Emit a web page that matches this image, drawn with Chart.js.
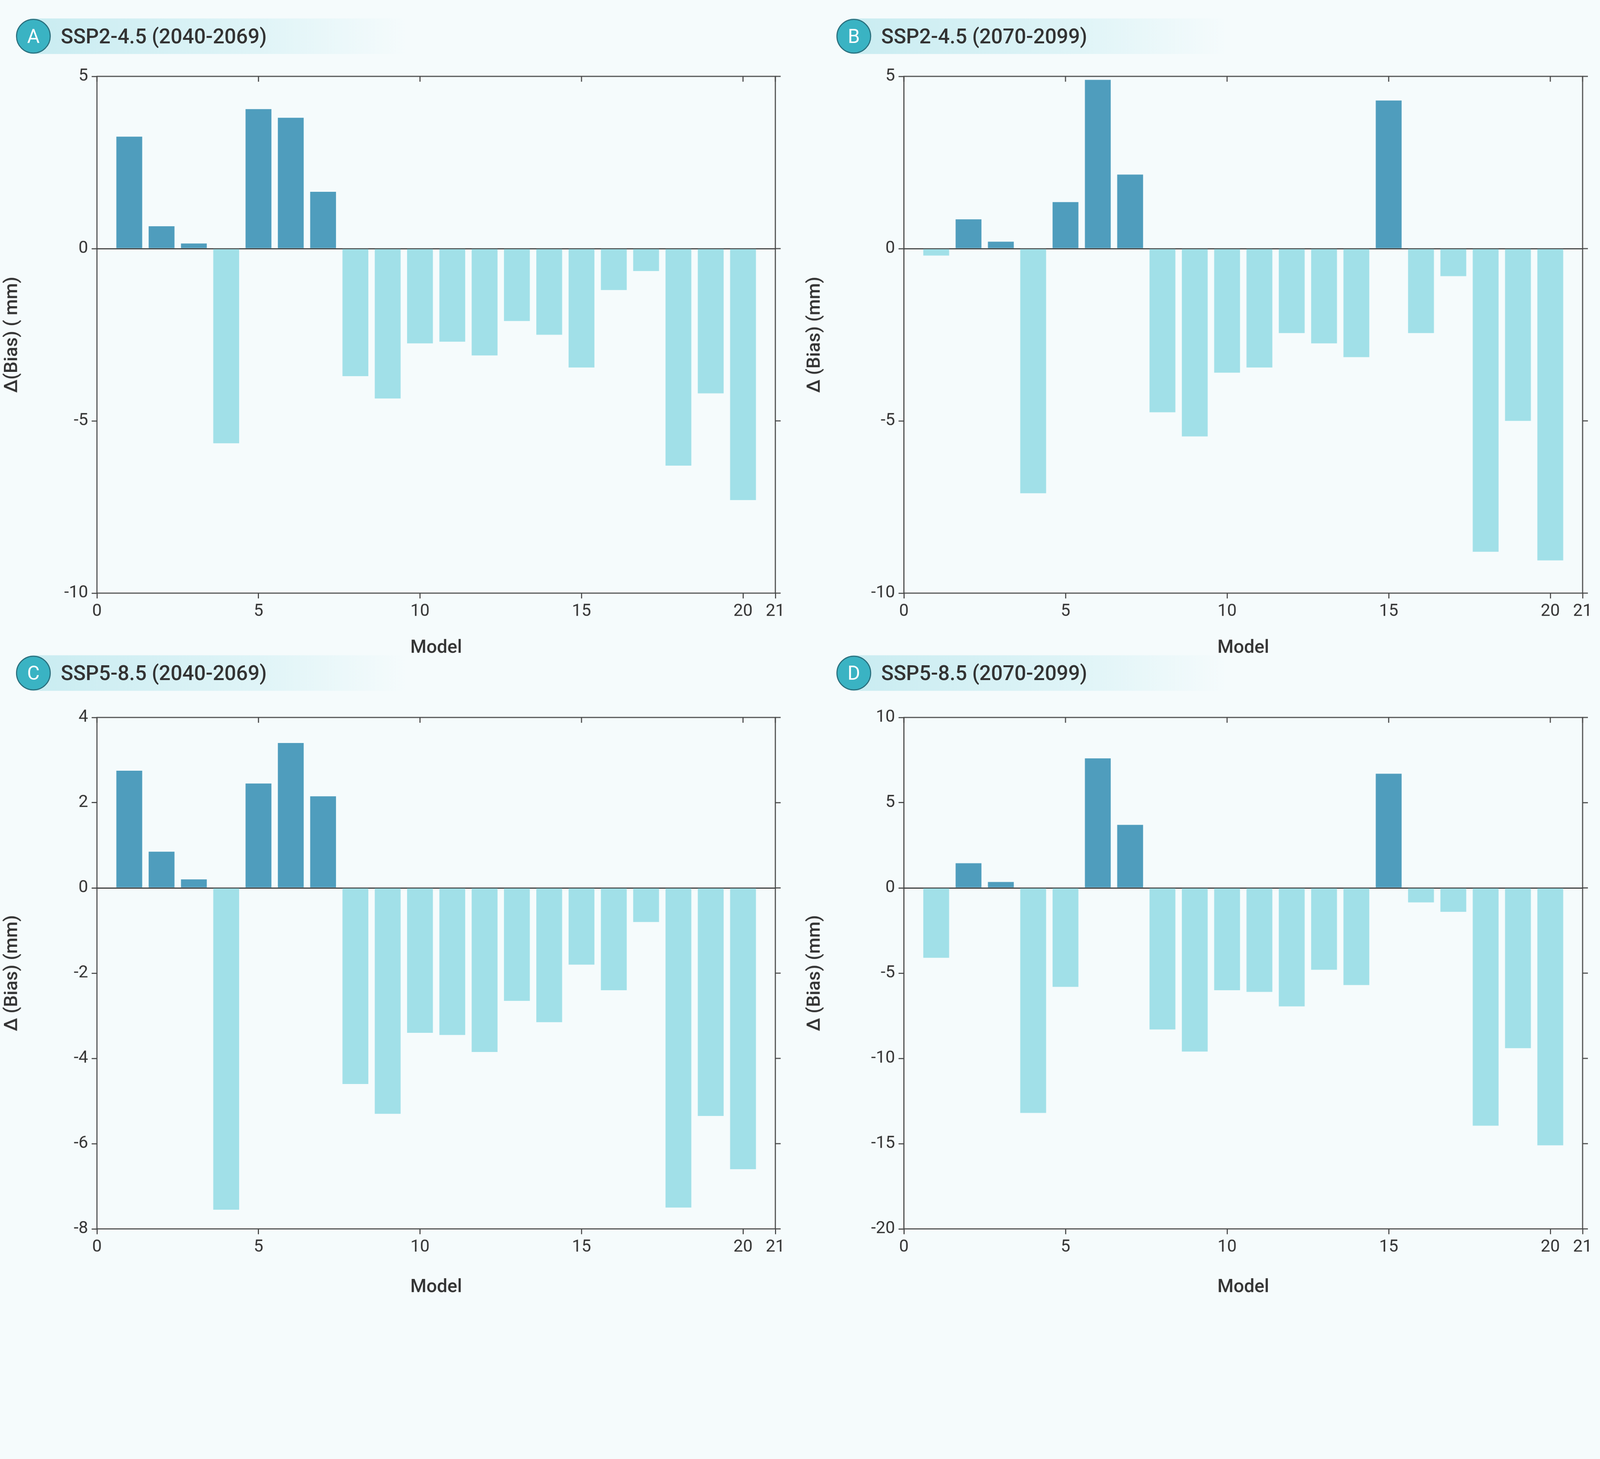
<!DOCTYPE html>
<html>
<head>
<meta charset="utf-8">
<script src="https://cdn.jsdelivr.net/npm/chart.js@4"></script>
<style>
  html, body { margin: 0; background: #f5fbfc; overflow: hidden; }
  #page { width: 4505px; height: 3735px; background: #f5fbfc; position: relative; font-family: Roboto, sans-serif; transform-origin: 0 0; }
  .panel { position: absolute; }
  .title { position: absolute; height: 100px; display: flex; align-items: center; }
  .band { position: absolute; left: 40px; top: 0; width: 1060px; height: 100px; background: linear-gradient(to right, #c9ecf1 0%, #dff4f7 60%, rgba(245,251,252,0) 100%); }
  .badge { position: relative; width: 92px; height: 92px; border-radius: 50%; background: #3ab3c3; border: 3px solid #2a6f7d; color: #fff; font-size: 54px; display: flex; align-items: center; justify-content: center; }
  .ttext { position: relative; margin-left: 28px; font-size: 58px; font-weight: 500; color: #333; }
</style>
</head>
<body>
<div id="page">
<div class="title" style="left:45px;top:52px"><div class="band"></div><div class="badge">A</div><div class="ttext">SSP2-4.5 (2040-2069)</div></div>
<div class="title" style="left:2355px;top:52px"><div class="band"></div><div class="badge">B</div><div class="ttext">SSP2-4.5 (2070-2099)</div></div>
<div class="title" style="left:45px;top:1845px"><div class="band"></div><div class="badge">C</div><div class="ttext">SSP5-8.5 (2040-2069)</div></div>
<div class="title" style="left:2355px;top:1845px"><div class="band"></div><div class="badge">D</div><div class="ttext">SSP5-8.5 (2070-2099)</div></div>

<div class="panel" style="left:0;top:170px;width:2250px;height:1690px"><canvas id="cA"></canvas></div>
<div class="panel" style="left:2260px;top:170px;width:2245px;height:1690px"><canvas id="cB"></canvas></div>
<div class="panel" style="left:0;top:1960px;width:2250px;height:1700px"><canvas id="cC"></canvas></div>
<div class="panel" style="left:2260px;top:1960px;width:2245px;height:1700px"><canvas id="cD"></canvas></div>
</div>

<script>
// fit the fixed-size page into the window
const page = document.getElementById('page');
const fit = Math.min(window.innerWidth / 4505, window.innerHeight / 3735);
if (fit < 0.999) page.style.transform = 'scale(' + fit + ')';

// Model numbers
const models = [1,2,3,4,5,6,7,8,9,10,11,12,13,14,15,16,17,18,19,20];

// Change in bias (mm) per model
const biasA = [3.25,0.65,0.15,-5.65,4.05,3.8,1.65,-3.7,-4.35,-2.75,-2.7,-3.1,-2.1,-2.5,-3.45,-1.2,-0.65,-6.3,-4.2,-7.3];
const biasB = [-0.2,0.85,0.2,-7.1,1.35,4.9,2.15,-4.75,-5.45,-3.6,-3.45,-2.45,-2.75,-3.15,4.3,-2.45,-0.8,-8.8,-5.0,-9.05];
const biasC = [2.75,0.85,0.2,-7.55,2.45,3.4,2.15,-4.6,-5.3,-3.4,-3.45,-3.85,-2.65,-3.15,-1.8,-2.4,-0.8,-7.5,-5.35,-6.6];
const biasD = [-4.1,1.45,0.35,-13.2,-5.8,7.6,3.7,-8.3,-9.6,-6.0,-6.1,-6.95,-4.8,-5.7,6.7,-0.85,-1.4,-13.95,-9.4,-15.1];

const posColor = '#4f9dbd';
const negColor = '#a1e0e8';
const ink = '#333333';

// frame + inward ticks on the top and right edges
const framePlugin = {
    id: 'frame',
    afterDraw(chart) {
        const c = chart.ctx, a = chart.chartArea;
        c.save();
        c.strokeStyle = '#444';
        c.lineWidth = 3;
        c.strokeRect(a.left, a.top, a.right - a.left, a.bottom - a.top);
        const ys = chart.scales.y, xs = chart.scales.x;
        ys.ticks.forEach(t => {
            const p = ys.getPixelForValue(t.value);
            c.beginPath(); c.moveTo(a.right, p); c.lineTo(a.right + 15, p); c.stroke();
        });
        xs.ticks.forEach(t => {
            const p = xs.getPixelForValue(t.value);
            c.beginPath(); c.moveTo(p, a.top); c.lineTo(p, a.top + 15); c.stroke();
        });
        c.restore();
    }
};

function makeChart(id, values, yMin, yMax, yStep, yLabel, yWidth, pad, xHeight) {
    new Chart(document.getElementById(id), {
        type: 'bar',
        data: {
            datasets: [{
                data: models.map((m, i) => ({ x: m, y: values[i] })),
                backgroundColor: values.map(v => v >= 0 ? posColor : negColor),
                barPercentage: 0.8,
                categoryPercentage: 1
            }]
        },
        options: {
            animation: false,
            responsive: true,
            maintainAspectRatio: false,
            layout: { padding: pad },
            plugins: { legend: { display: false }, tooltip: { enabled: false } },
            scales: {
                x: {
                    type: 'linear', min: 0, max: 21, offset: false,
                    afterFit: s => { s.height = xHeight; },
                    ticks: { stepSize: 5, color: ink, font: { size: 48, family: 'Roboto' }, padding: 8 },
                    grid: { display: true, offset: false, color: 'transparent', drawTicks: true, tickLength: 15, tickColor: '#444', tickWidth: 3 },
                    border: { display: false },
                    title: { display: true, text: 'Model', color: ink, font: { size: 52, weight: '500', family: 'Roboto' }, padding: { top: 6 } }
                },
                y: {
                    min: yMin, max: yMax,
                    afterFit: s => { s.width = yWidth; },
                    ticks: { stepSize: yStep, color: ink, font: { size: 48, family: 'Roboto' }, padding: 10 },
                    grid: { color: ctx => (ctx.tick && ctx.tick.value === 0 ? '#333' : 'transparent'), lineWidth: 3,
                            drawTicks: true, tickLength: 15, tickColor: '#444', tickWidth: 3 },
                    border: { display: false },
                    title: { display: true, text: yLabel, color: ink, font: { size: 52, weight: '500', family: 'Roboto' }, padding: { bottom: 14 } }
                }
            }
        },
        plugins: [framePlugin]
    });
}

makeChart('cA', biasA, -10, 5, 5, 'Δ(Bias) ( mm)', 273, { top: 45, right: 67, left: 0, bottom: 0 }, 190);
makeChart('cB', biasB, -10, 5, 5, 'Δ (Bias) (mm)', 285, { top: 45, right: 49, left: 0, bottom: 0 }, 190);
makeChart('cC', biasC, -8, 4, 2, 'Δ (Bias) (mm)', 273, { top: 60, right: 67, left: 0, bottom: 0 }, 200);
makeChart('cD', biasD, -20, 10, 5, 'Δ (Bias) (mm)', 285, { top: 60, right: 49, left: 0, bottom: 0 }, 200);
</script>
</body>
</html>
